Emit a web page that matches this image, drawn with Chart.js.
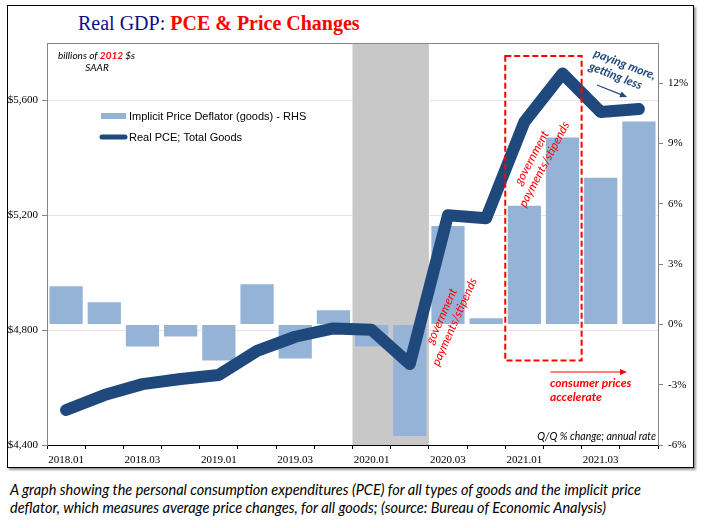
<!DOCTYPE html>
<html>
<head>
<meta charset="utf-8">
<script src="https://cdn.jsdelivr.net/npm/chart.js@4.4.1/dist/chart.umd.min.js"></script>
<style>
  body { margin: 0; background: #fff; width: 705px; height: 528px; position: relative; overflow: hidden; }
  #frame { position: absolute; left: 7px; top: 5px; width: 685px; height: 461px; border: 1px solid #000; box-shadow: 2px 2px 2px #9a9a9a; background: #fff; }
  #title { position: absolute; left: 78px; top: 12px; font-family: "Liberation Serif", serif; font-size: 20px; white-space: nowrap; }
  #title .a { color: #0c0c8a; }
  #title .b { color: #ff0000; font-weight: bold; }
  #wrap { position: absolute; left: 0; top: 0; width: 705px; height: 470px; }
  #caption { position: absolute; left: 10px; top: 481px; width: 695px; font-family: Lato, sans-serif; font-style: italic; font-size: 14.5px; line-height: 18px; color: #000; white-space: nowrap; }
</style>
</head>
<body>
<div id="frame"></div>
<div id="title"><span class="a">Real GDP: </span><span class="b">PCE &amp; Price Changes</span></div>
<div id="wrap"><canvas id="gdpChart" width="705" height="470"></canvas></div>
<div id="caption">A graph showing the personal consumption expenditures (PCE) for all types of goods and the implicit price<br>deflator, which measures average price changes, for all goods; (source: Bureau of Economic Analysis)</div>

<script>
// quarters, 2018 Q1 .. 2021 Q4
const quarters = ['2018.01', '2018.02', '2018.03', '2018.04', '2019.01', '2019.02', '2019.03', '2019.04',
                  '2020.01', '2020.02', '2020.03', '2020.04', '2021.01', '2021.02', '2021.03', '2021.04'];

// implicit price deflator (goods), Q/Q % change annual rate - RHS
const deflator = [1.9, 1.1, -1.1, -0.6, -1.8, 2.0, -1.7, 0.7, -1.1, -5.55, 4.9, 0.3, 5.9, 9.3, 7.3, 10.1];

// real PCE total goods, billions of 2012 $ SAAR
const realPCE = [4522, 4574, 4612, 4630, 4644, 4728, 4777, 4806, 4801, 4682, 5200, 5190, 5525, 5694, 5560, 5570];

const leftTicks = [4400, 4800, 5200, 5600];
const rightTicks = [-6, -3, 0, 3, 6, 9, 12];

const recession = ['2020.01', '2020.02'];
const boxQuarters = ['2021.01', '2021.02'];
const boxRange = [-1.8, 13.35];

const barColor = '#95b3d7';
const lineColor = '#1f497d';
const red = '#ff0000';

function arrow(ctx, x1, y1, x2, y2, color, w) {
    const a = Math.atan2(y2 - y1, x2 - x1);
    ctx.save();
    ctx.strokeStyle = color;
    ctx.fillStyle = color;
    ctx.lineWidth = w;
    ctx.beginPath();
    ctx.moveTo(x1, y1);
    ctx.lineTo(x2 - 5 * Math.cos(a), y2 - 5 * Math.sin(a));
    ctx.stroke();
    ctx.beginPath();
    ctx.moveTo(x2, y2);
    ctx.lineTo(x2 - 7 * Math.cos(a) + 3 * Math.sin(a), y2 - 7 * Math.sin(a) - 3 * Math.cos(a));
    ctx.lineTo(x2 - 7 * Math.cos(a) - 3 * Math.sin(a), y2 - 7 * Math.sin(a) + 3 * Math.cos(a));
    ctx.closePath();
    ctx.fill();
    ctx.restore();
}

function rotatedLines(ctx, cx, cy, deg, lines, font, color, align) {
    ctx.save();
    ctx.translate(cx, cy);
    ctx.rotate(deg * Math.PI / 180);
    ctx.font = font;
    ctx.fillStyle = color;
    ctx.textAlign = align || 'center';
    ctx.textBaseline = 'middle';
    const step = 14;
    const start = -(lines.length - 1) * step / 2;
    lines.forEach((t, i) => ctx.fillText(t, align === 'left' ? -30 : 0, start + i * step));
    ctx.restore();
}

const decorations = {
    id: 'decorations',
    beforeDatasetsDraw(chart) {
        const { ctx, chartArea: ca, scales: { x } } = chart;
        const half = x.getPixelForValue(1) - x.getPixelForValue(0);
        const x1 = x.getPixelForValue(quarters.indexOf(recession[0])) - half / 2;
        const x2 = x.getPixelForValue(quarters.indexOf(recession[1])) + half / 2;
        ctx.save();
        ctx.fillStyle = '#c8c8c8';
        ctx.fillRect(x1, ca.top, x2 - x1, ca.bottom - ca.top);
        ctx.restore();
    },
    afterDatasetsDraw(chart) {
        const { ctx, chartArea: ca, scales: { x, y1 } } = chart;
        const half = x.getPixelForValue(1) - x.getPixelForValue(0);

        // plot area top border
        ctx.save();
        ctx.strokeStyle = '#868686';
        ctx.lineWidth = 1;
        ctx.beginPath();
        ctx.moveTo(ca.left, ca.top + 0.5);
        ctx.lineTo(ca.right, ca.top + 0.5);
        ctx.stroke();

        // red dashed box
        const bx1 = x.getPixelForValue(quarters.indexOf(boxQuarters[0])) - half / 2;
        const bx2 = x.getPixelForValue(quarters.indexOf(boxQuarters[1])) + half / 2;
        const by1 = y1.getPixelForValue(boxRange[1]);
        const by2 = y1.getPixelForValue(boxRange[0]);
        ctx.strokeStyle = red;
        ctx.lineWidth = 2;
        ctx.setLineDash([6, 3]);
        ctx.strokeRect(bx1, by1, bx2 - bx1, by2 - by1);
        ctx.setLineDash([]);

        // legend
        const ds = chart.data.datasets;
        ctx.fillStyle = barColor;
        ctx.fillRect(101, 113, 25, 6);
        ctx.strokeStyle = lineColor;
        ctx.lineWidth = 5;
        ctx.lineCap = 'round';
        ctx.beginPath();
        ctx.moveTo(102, 137);
        ctx.lineTo(125, 137);
        ctx.stroke();
        ctx.fillStyle = '#000';
        ctx.font = '11px "Liberation Sans", Arial, sans-serif';
        ctx.textBaseline = 'middle';
        ctx.fillText(ds[0].label, 129, 117);
        ctx.fillText(ds[1].label, 129, 138);

        // units note
        ctx.font = 'italic 10px Lato, sans-serif';
        ctx.textAlign = 'left';
        let tx = 58;
        ctx.fillStyle = '#000';
        ctx.fillText('billions of ', tx, 56);
        tx += ctx.measureText('billions of ').width;
        ctx.font = 'italic bold 10px Lato, sans-serif';
        ctx.fillStyle = red;
        ctx.fillText('2012', tx, 56);
        tx += ctx.measureText('2012 ').width;
        ctx.font = 'italic 10px Lato, sans-serif';
        ctx.fillStyle = '#000';
        ctx.fillText('$s', tx, 56);
        ctx.textAlign = 'center';
        ctx.fillText('SAAR', 97, 68);

        ctx.textAlign = 'right';
        ctx.font = 'italic 10.5px Lato, sans-serif';
        ctx.fillText('Q/Q % change; annual rate', 656, 437);

        // consumer prices accelerate
        arrow(ctx, 551, 372, 627, 372, red, 1.2);
        ctx.textAlign = 'left';
        ctx.fillStyle = red;
        ctx.font = 'italic bold 12px Lato, sans-serif';
        ctx.fillText('consumer prices', 550, 383);
        ctx.fillText('accelerate', 550, 397);
        ctx.restore();

        // government payments
        rotatedLines(ctx, 448, 319, -66, ['government', 'payments/stipends'], 'italic 12px Lato, sans-serif', red);
        rotatedLines(ctx, 538, 161, -62, ['government', 'payments/stipends'], 'italic 12px Lato, sans-serif', red);

        // paying more, getting less
        rotatedLines(ctx, 620, 70, 21, ['paying more,', 'getting less'], 'italic bold 12px Lato, sans-serif', lineColor, 'left');
        arrow(ctx, 597, 85, 627, 97, lineColor, 1.2);
    }
};

const tickFont = { family: '"Liberation Serif", "Times New Roman", serif', size: 11 };

new Chart(document.getElementById('gdpChart'), {
    type: 'bar',
    data: {
        labels: quarters,
        datasets: [
            {
                type: 'bar',
                label: 'Implicit Price Deflator (goods) - RHS',
                data: deflator,
                backgroundColor: barColor,
                yAxisID: 'y1',
                barPercentage: 0.87,
                categoryPercentage: 1.0,
                order: 2
            },
            {
                type: 'line',
                label: 'Real PCE; Total Goods',
                data: realPCE,
                borderColor: lineColor,
                borderWidth: 12,
                borderCapStyle: 'round',
                borderJoinStyle: 'round',
                pointRadius: 0,
                tension: 0,
                yAxisID: 'y',
                order: 1
            }
        ]
    },
    options: {
        responsive: false,
        animation: false,
        layout: { padding: { top: 43, left: 0, right: 0, bottom: 0 } },
        plugins: {
            legend: { display: false },
            tooltip: { enabled: false },
            title: { display: false }
        },
        scales: {
            x: {
                offset: true,
                grid: { offset: true, drawOnChartArea: false, drawTicks: true, tickLength: 4, tickColor: '#000' },
                border: { color: '#000', width: 1 },
                ticks: {
                    autoSkip: false,
                    maxRotation: 0,
                    padding: 5,
                    color: '#000',
                    font: tickFont,
                    callback: (v, i) => (i % 2 === 0 ? quarters[i] : '')
                },
                afterFit: s => { s.height = 25; }
            },
            y: {
                position: 'left',
                min: 4400,
                max: 5800,
                ticks: {
                    stepSize: 400,
                    padding: 4,
                    color: '#000',
                    font: tickFont,
                    callback: v => '$' + v.toLocaleString('en-US')
                },
                afterBuildTicks: s => { s.ticks = s.ticks.filter(t => leftTicks.includes(t.value)); },
                grid: {
                    color: c => (c.tick && c.tick.value === 4400 ? 'rgba(0,0,0,0)' : '#e6e6e6'),
                    tickColor: '#868686',
                    tickLength: 5
                },
                border: { color: '#868686' },
                afterFit: s => { s.width = 47; }
            },
            y1: {
                position: 'right',
                min: -6,
                max: 14,
                ticks: {
                    stepSize: 3,
                    padding: 5,
                    color: '#000',
                    font: tickFont,
                    callback: v => v + '%'
                },
                afterBuildTicks: s => { s.ticks = s.ticks.filter(t => rightTicks.includes(t.value)); },
                grid: { drawOnChartArea: false, tickColor: '#868686', tickLength: 5 },
                border: { color: '#868686' },
                afterFit: s => { s.width = 47; }
            }
        }
    },
    plugins: [decorations]
});
</script>
</body>
</html>
